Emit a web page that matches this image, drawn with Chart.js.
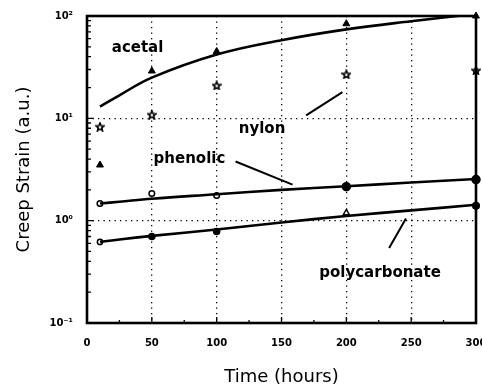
<!DOCTYPE html>
<html>
<head>
<meta charset="utf-8">
<script src="https://cdn.jsdelivr.net/npm/chart.js@4.4.0/dist/chart.umd.min.js"></script>
<style>
  html, body { margin: 0; padding: 0; background: #fff; overflow: hidden; }
  #wrap { position: relative; width: 482px; height: 390px; }
</style>
</head>
<body>
<div id="wrap"><canvas id="chart"></canvas></div>
<script>
// measured points
const TIMES = [10, 50, 100, 200, 300];
const ACETAL = [3.5, 29, 45, 84, 100];
const NYLON = [8.3, 10.9, 21, 27, 29.5];
const PHENOLIC = [1.47, 1.84, 1.76, 2.15, 2.52];
const POLYCARBONATE = [0.62, 0.70, 0.785, 1.19, 1.4];

// fitted curves
const FIT_TIMES = [10, 25, 50, 100, 150, 200, 250, 300];
const ACETAL_FIT = [13, 16.8, 25, 42, 58, 74, 89, 105];
const PHENOLIC_FIT = [1.47, 1.53, 1.64, 1.81, 2.0, 2.17, 2.36, 2.55];
const POLYCARBONATE_FIT = [0.62, 0.655, 0.71, 0.82, 0.96, 1.11, 1.26, 1.43];

const X_TICKS = [0, 50, 100, 150, 200, 250, 300];
const Y_TICKS = [0.1, 1, 10, 100];
const Y_TICK_LABELS = ['10⁻¹', '10⁰', '10¹', '10²'];
const MATERIALS = ['acetal', 'nylon', 'phenolic', 'polycarbonate'];

const FONT = "'DejaVu Sans', sans-serif";

// label placement in data coordinates
const LABEL_POS = {
  acetal: { x: 39, y: 48.6 },
  nylon: { x: 135, y: 7.8 },
  phenolic: { x: 79, y: 3.96 },
  polycarbonate: { x: 226, y: 0.31 },
};
const POINTERS = [
  [[114.6, 3.79], [158.5, 2.25]],
  [[169, 10.7], [197, 18.0]],
  [[246, 1.05], [233, 0.54]],
];

function pairs(xs, ys) {
  return xs.map((x, i) => ({ x, y: ys[i] }));
}

function starImage(size) {
  const c = document.createElement('canvas');
  c.width = size;
  c.height = size;
  const ctx = c.getContext('2d');
  const cx = size / 2, cy = size / 2 + 0.5;
  const R = size / 2 - 0.8, r = R * 0.45;
  ctx.beginPath();
  for (let i = 0; i < 10; i++) {
    const a = -Math.PI / 2 + i * Math.PI / 5;
    const rad = i % 2 ? r : R;
    ctx.lineTo(cx + rad * Math.cos(a), cy + rad * Math.sin(a));
  }
  ctx.closePath();
  ctx.fillStyle = '#fff';
  ctx.fill();
  ctx.lineWidth = 1.6;
  ctx.strokeStyle = '#000';
  ctx.stroke();
  return c;
}

const frame = {
  id: 'frame',
  afterDatasetsDraw(chart) {
    const { ctx, chartArea: a, scales: { x, y } } = chart;
    ctx.save();
    ctx.strokeStyle = '#000';

    // inward ticks
    ctx.lineWidth = 1.3;
    ctx.beginPath();
    for (let v = 25; v < 300; v += 25) {
      const px = x.getPixelForValue(v);
      const len = v % 50 === 0 ? 6 : 3;
      ctx.moveTo(px, a.bottom);
      ctx.lineTo(px, a.bottom - len);
    }
    [0.1, 1, 10].forEach((d) => {
      for (let k = 2; k <= 9; k++) {
        const py = y.getPixelForValue(d * k);
        ctx.moveTo(a.left, py);
        ctx.lineTo(a.left + 4, py);
      }
    });
    Y_TICKS.forEach((v) => {
      const py = y.getPixelForValue(v);
      ctx.moveTo(a.left, py);
      ctx.lineTo(a.left + 7, py);
    });
    ctx.stroke();

    // box
    ctx.lineWidth = 2.6;
    ctx.strokeRect(a.left, a.top, a.right - a.left, a.bottom - a.top);

    // pointer lines
    ctx.lineWidth = 2;
    ctx.beginPath();
    POINTERS.forEach(([p, q]) => {
      ctx.moveTo(x.getPixelForValue(p[0]), y.getPixelForValue(p[1]));
      ctx.lineTo(x.getPixelForValue(q[0]), y.getPixelForValue(q[1]));
    });
    ctx.stroke();

    // material labels
    ctx.fillStyle = '#000';
    ctx.font = 'bold 15px ' + FONT;
    ctx.textAlign = 'center';
    ctx.textBaseline = 'middle';
    MATERIALS.forEach((name) => {
      const pos = LABEL_POS[name];
      ctx.fillText(name, x.getPixelForValue(pos.x), y.getPixelForValue(pos.y));
    });
    ctx.restore();
  },
};

const fitLine = (data) => ({
  type: 'line',
  data,
  borderColor: '#000',
  borderWidth: 2.6,
  pointRadius: 0,
  tension: 0.4,
  fill: false,
});

const markers = (data, style) => ({
  type: 'line',
  data,
  showLine: false,
  clip: false,
  borderColor: '#000',
  pointBorderColor: '#000',
  ...style,
});

const star = starImage(10);

new Chart(document.getElementById('chart'), {
  type: 'line',
  data: {
    datasets: [
      fitLine(pairs(FIT_TIMES, ACETAL_FIT)),
      fitLine(pairs(FIT_TIMES, PHENOLIC_FIT)),
      fitLine(pairs(FIT_TIMES, POLYCARBONATE_FIT)),
      markers(pairs(TIMES, ACETAL), {
        pointStyle: 'triangle', pointRadius: 4, pointBackgroundColor: '#000', pointBorderWidth: 1,
      }),
      markers(pairs(TIMES, NYLON), {
        pointStyle: star, pointRadius: 5,
      }),
      markers(pairs(TIMES, PHENOLIC), {
        pointStyle: 'circle',
        pointRadius: [2.8, 2.8, 2.8, 4, 4],
        pointBorderWidth: 1.5,
        pointBackgroundColor: ['#fff', '#fff', '#fff', '#000', '#000'],
      }),
      markers(pairs(TIMES, POLYCARBONATE), {
        pointStyle: ['circle', 'circle', 'circle', 'triangle', 'circle'],
        pointRadius: [2.6, 3, 3, 3.5, 3.3],
        pointBorderWidth: 1.5,
        pointBackgroundColor: ['#fff', '#000', '#000', '#fff', '#000'],
      }),
    ],
  },
  options: {
    responsive: true,
    maintainAspectRatio: false,
    animation: false,
    events: [],
    layout: { padding: { left: 0, right: 5, top: 16, bottom: 0 } },
    plugins: { legend: { display: false }, tooltip: { enabled: false } },
    scales: {
      x: {
        type: 'linear',
        min: 0,
        max: 300,
        afterBuildTicks: (scale) => {
          scale.ticks = X_TICKS.map((v) => ({ value: v }));
        },
        afterFit: (scale) => {
          scale.height = 67;
          scale.paddingLeft = 0;
          scale.paddingRight = 0;
        },
        ticks: {
          padding: 14,
          color: '#000',
          maxRotation: 0,
          autoSkip: false,
          font: { family: FONT, size: 10, weight: 'bold' },
        },
        grid: {
          drawTicks: false,
          lineWidth: 1.3,
          color: (c) => (c.tick && (c.tick.value === 0 || c.tick.value === 300) ? 'rgba(0,0,0,0)' : '#000'),
        },
        border: { display: false, dash: [1.3, 4.2] },
        title: {
          display: true,
          text: 'Time (hours)',
          color: '#000',
          font: { family: FONT, size: 18 },
          padding: { top: 0, bottom: 2 },
        },
      },
      y: {
        type: 'logarithmic',
        min: 0.1,
        max: 100,
        afterBuildTicks: (scale) => {
          scale.ticks = Y_TICKS.map((v) => ({ value: v, major: true }));
        },
        afterFit: (scale) => {
          scale.width = 87;
          scale.paddingTop = 0;
          scale.paddingBottom = 0;
        },
        ticks: {
          padding: 14,
          color: '#000',
          font: { family: FONT, size: 10, weight: 'bold' },
          callback: (v) => {
            const i = Y_TICKS.indexOf(v);
            return i >= 0 ? Y_TICK_LABELS[i] : '';
          },
        },
        grid: {
          drawTicks: false,
          lineWidth: 1.3,
          color: (c) => (c.tick && (c.tick.value === 0.1 || c.tick.value === 100) ? 'rgba(0,0,0,0)' : '#000'),
        },
        border: { display: false, dash: [1.3, 4.2] },
        title: {
          display: true,
          text: 'Creep Strain (a.u.)',
          color: '#000',
          font: { family: FONT, size: 18 },
          padding: { top: 14, bottom: 0 },
        },
      },
    },
  },
  plugins: [frame],
});
</script>
</body>
</html>
